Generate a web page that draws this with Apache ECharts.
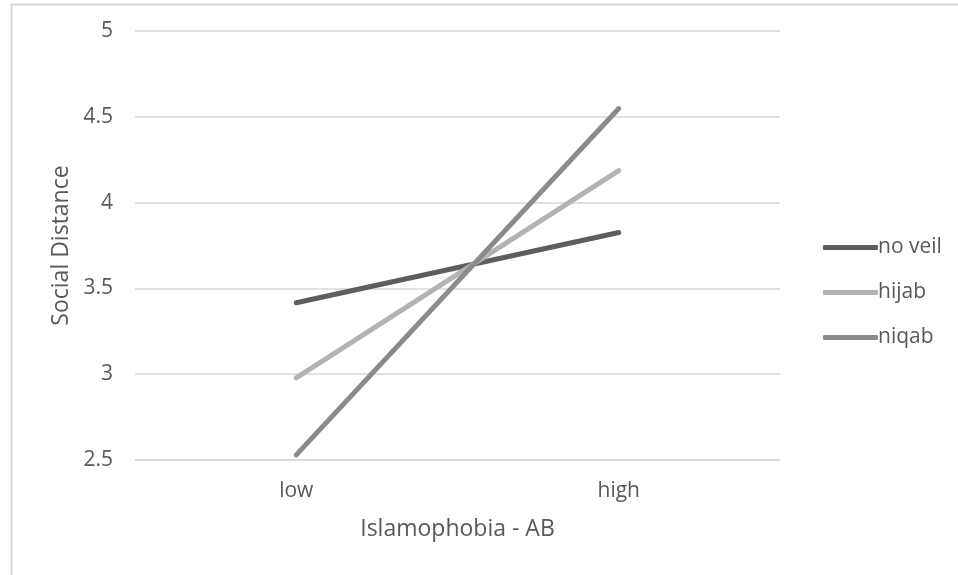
<!DOCTYPE html>
<html>
<head>
<meta charset="utf-8">
<script src="https://cdn.jsdelivr.net/npm/echarts@6/dist/echarts.min.js"></script>
<style>
html,body{margin:0;padding:0;background:#fff;}
#c{width:958px;height:575px;}
</style>
</head>
<body>
<div id="c"></div>
<script>
const categories = ['low', 'high'];
const noVeil = [3.416, 3.826];
const hijab = [2.978, 4.186];
const niqab = [2.53, 4.548];
const seriesNames = ['no veil', 'hijab', 'niqab'];
const yTicks = [2.5, 3, 3.5, 4, 4.5, 5];

const FONT = 'Open Sans';
const FS = 21;
const FS_TITLE = 23;
const TXT = '#595959';
const chart = echarts.init(document.getElementById('c'), null, {renderer: 'canvas'});
chart.setOption({
  animation: false,
  backgroundColor: '#fff',
  graphic: [{
    type: 'rect', left: 9, top: 2, z: -10,
    shape: {width: 1000, height: 700},
    style: {fill: 'none', stroke: '#d9d9d9', lineWidth: 2}
  }],
  grid: {left: 135, right: 178, top: 31, bottom: 115, containLabel: false},
  xAxis: {
    type: 'category',
    data: categories,
    boundaryGap: true,
    name: 'Islamophobia - AB',
    nameLocation: 'middle',
    nameGap: 58,
    nameTextStyle: {color: TXT, fontSize: FS_TITLE, fontFamily: FONT},
    axisLine: {lineStyle: {color: '#d9d9d9', width: 1.5}},
    axisTick: {show: false},
    axisLabel: {color: TXT, fontSize: FS, fontFamily: FONT, margin: 21}
  },
  yAxis: {
    type: 'value',
    min: 2.5, max: 5, interval: 0.5,
    name: 'Social Distance',
    nameLocation: 'middle',
    nameGap: 62,
    nameTextStyle: {color: TXT, fontSize: FS_TITLE, fontFamily: FONT},
    axisLine: {show: false},
    axisTick: {show: false},
    splitLine: {lineStyle: {color: '#d9d9d9', width: 1.5}},
    axisLabel: {
      color: TXT, fontSize: FS, fontFamily: FONT, margin: 22,
      formatter: v => yTicks.includes(v) ? String(v) : ''
    }
  },
  legend: {
    orient: 'vertical',
    left: 818, top: 232,
    icon: 'roundRect',
    itemWidth: 55, itemHeight: 5, itemGap: 24,
    textStyle: {color: TXT, fontSize: FS, fontFamily: FONT, padding: [0,0,0,-5]},
    data: seriesNames
  },
  series: [
    {name: seriesNames[0], type: 'line', data: noVeil, symbol: 'none', color: '#5e5e5e',
     lineStyle: {width: 5, color: '#5e5e5e', cap: 'round'}},
    {name: seriesNames[1], type: 'line', data: hijab, symbol: 'none', color: '#b3b3b3',
     lineStyle: {width: 5, color: '#b3b3b3', cap: 'round'}},
    {name: seriesNames[2], type: 'line', data: niqab, symbol: 'none', color: '#8b8b8b',
     lineStyle: {width: 5, color: '#8b8b8b', cap: 'round'}}
  ]
});
</script>
</body>
</html>
